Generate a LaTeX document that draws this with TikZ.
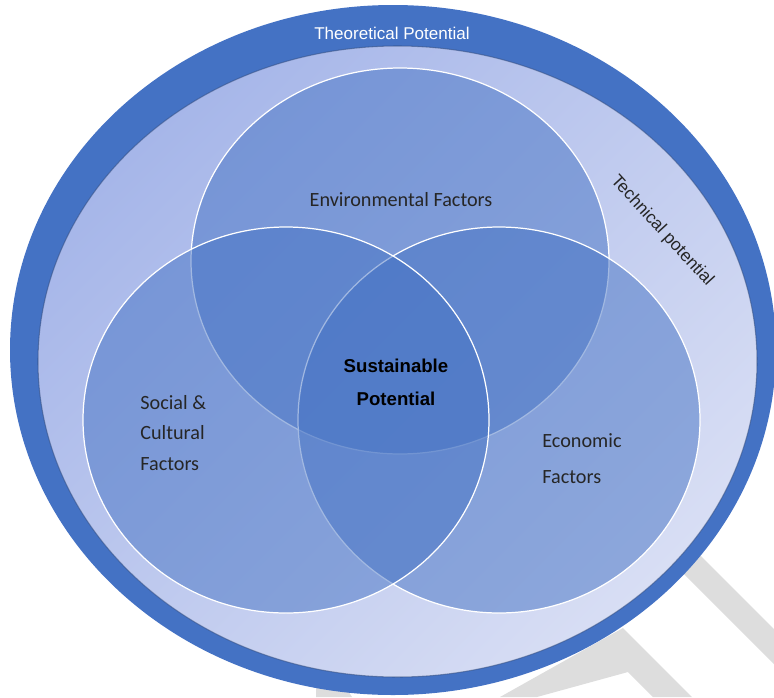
\documentclass[tikz,border=0pt]{standalone}
\usepackage{fontspec}
\setmainfont{Carlito}
\newfontfamily\arialfont{Liberation Sans}
\usepackage{tikz}

\definecolor{ringblue}{HTML}{4472C4}
\definecolor{lightA}{HTML}{A6B6E9}
\definecolor{lightB}{HTML}{D8DEF4}
\definecolor{wmgrey}{HTML}{DDDDDD}
\definecolor{txt}{HTML}{262626}

\begin{document}
\begin{tikzpicture}[x=0.02cm, y=-0.02cm,
  set/.style = {draw=white, line width=0.7pt, fill=ringblue, fill opacity=0.5},
  lbl/.style = {font=\fontsize{11.5}{17.6}\selectfont, text=txt, inner sep=0pt, align=left}]
\useasboundingbox (0,0) rectangle (774,697);
\clip (0,0) rectangle (774,697);

% watermark
\fill[wmgrey] (640,495) -- (774,629) -- (774,664) -- (640,530) -- cycle;
\fill[wmgrey] (500,697) -- (623,628) -- (692,697) -- (653,697) -- (628,672) -- (537,697) -- cycle;
\fill[wmgrey] (316,697) -- (316,670) -- (335,670) -- (352,697) -- cycle;

% theoretical and technical potential
\fill[ringblue] (393,350) ellipse [x radius=383, y radius=345];
\shade[top color=lightA, bottom color=lightB, shading angle=45] (397.5,361.5) ellipse [x radius=359.5, y radius=315.5];
\draw[ringblue!60!black, line width=0.6pt, opacity=0.5] (397.5,361.5) ellipse [x radius=359.5, y radius=315.5];

% the three factors
\draw[set] (400,261) ellipse [x radius=209, y radius=193];
\draw[set] (499,420) ellipse [x radius=201, y radius=193];
\draw[set] (286,420) ellipse [x radius=203, y radius=193];

\node[font=\arialfont\fontsize{9.7}{12}\selectfont, text=white] (theo) at (392,33) {Theoretical Potential};
\node[font=\arialfont\fontsize{9.9}{12}\selectfont, text=black!85, rotate=-47.5] (tech) at (662,231) {Technical potential};
\node[lbl] (env) at (401,200) {Environmental Factors};
\node[lbl, anchor=west] (soc) at (140,433) {Social \&\\Cultural\\Factors};
\node[lbl, anchor=west, font=\fontsize{11.5}{20.4}\selectfont] (eco) at (542,459) {Economic\\Factors};
\node[font=\arialfont\bfseries\fontsize{10.6}{18.7}\selectfont, align=center, inner sep=0pt] (sust) at (396,382.5) {Sustainable\\Potential};
\end{tikzpicture}
\end{document}
